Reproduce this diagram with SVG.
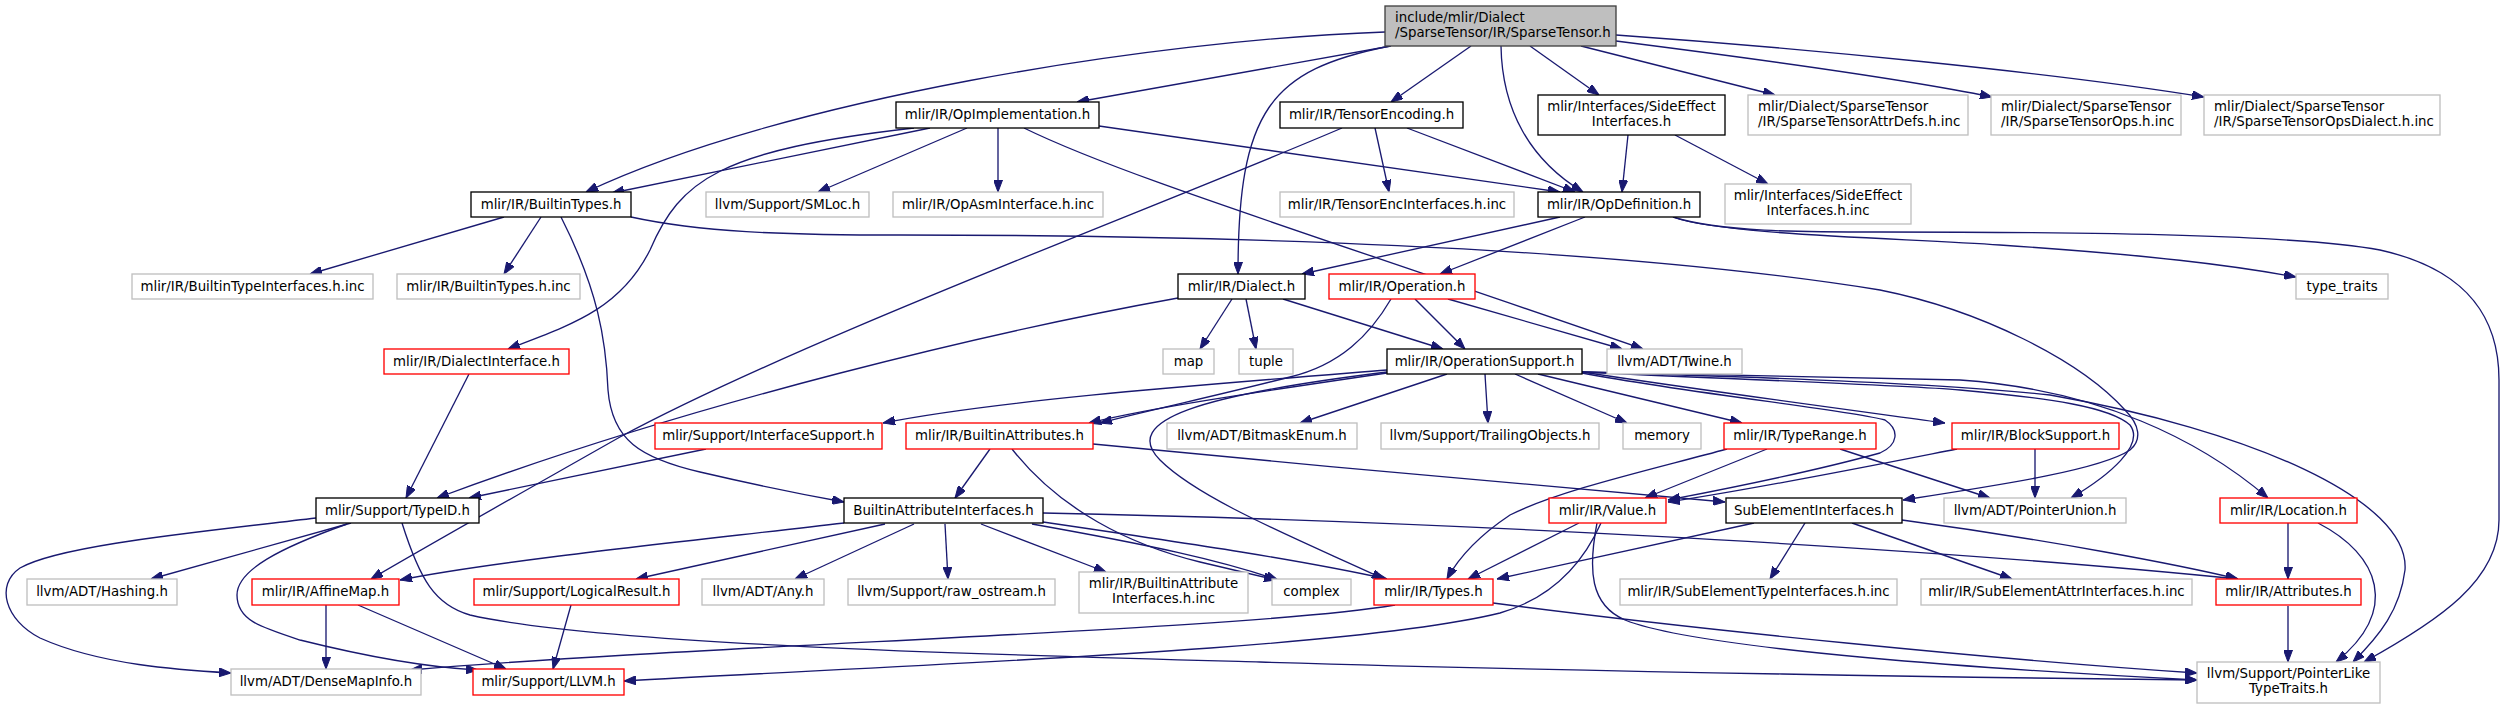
<svg xmlns="http://www.w3.org/2000/svg" width="2506" height="708" viewBox="0 0 2506 708">
<style>
.b{fill:#ffffff;stroke:#000000;stroke-width:1.33}
.g{fill:#ffffff;stroke:#bfbfbf;stroke-width:1.33}
.r{fill:#ffffff;stroke:#ff0000;stroke-width:1.33}
.root{fill:#bfbfbf;stroke:#404040;stroke-width:1.33}
text{font-family:"DejaVu Sans","Liberation Sans",sans-serif;font-size:13.33px;fill:#000000}
.c{text-anchor:middle}
.l{text-anchor:start}
.e{fill:none;stroke:#191970;stroke-width:1.33;marker-end:url(#a)}
</style>
<defs>
<marker id="a" markerWidth="12" markerHeight="9" refX="12" refY="4.5" orient="auto" markerUnits="userSpaceOnUse" viewBox="0 0 12 9">
<path d="M0,0 L12,4.5 L0,9 z" fill="#191970" stroke="#191970" stroke-width="1"/>
</marker>
</defs>
<rect width="2506" height="708" fill="#ffffff"/>
<g id="edges">
<path class="e" d="M1385,32 C1150,40 780,100 586,192"/>
<path class="e" d="M1391,46 L1077,102"/>
<path class="e" d="M1390,46 C1270,70 1238,110 1238,274"/>
<path class="e" d="M1471,46 L1391,102"/>
<path class="e" d="M1501,46 C1502,110 1530,160 1583,192"/>
<path class="e" d="M1530,46 L1599,95"/>
<path class="e" d="M1581,46 L1775,95"/>
<path class="e" d="M1616,41 C1750,58 1900,78 1992,97"/>
<path class="e" d="M1616,35 C1800,48 2050,72 2204,97"/>
<path class="e" d="M930,128 L612,193"/>
<path class="e" d="M914,128 C720,150 680,180 650,250 C620,310 570,325 508,349"/>
<path class="e" d="M967,128 L818,192"/>
<path class="e" d="M998,128 L998,192"/>
<path class="e" d="M1099,126 L1560,192"/>
<path class="e" d="M1024,128 C1120,175 1300,230 1643,349"/>
<path class="e" d="M504,217 L310,274"/>
<path class="e" d="M541,217 L504,274"/>
<path class="e" d="M561,217 C598,290 606,340 608,390 C612,440 640,458 700,472 C760,486 800,494 844,502"/>
<path class="e" d="M631,217 C700,232 780,235 900,235 C1200,235 1600,245 1880,290 C1980,310 2080,360 2125,410 C2140,425 2142,440 2130,450 C2100,470 2000,485 1903,500"/>
<path class="e" d="M1375,128 L1389,192"/>
<path class="e" d="M1407,128 L1575,192"/>
<path class="e" d="M1342,128 C1150,210 800,340 620,437 C500,505 420,550 371,579"/>
<path class="e" d="M1628,135 L1622,192"/>
<path class="e" d="M1675,135 L1768,184"/>
<path class="e" d="M1560,217 L1302,274"/>
<path class="e" d="M1585,217 L1440,274"/>
<path class="e" d="M1673,217 C1720,235 1900,238 2000,245 C2150,255 2230,265 2296,277"/>
<path class="e" d="M1673,217 C1720,232 1800,232 1880,232 C2100,232 2300,235 2380,250 C2470,270 2499,320 2499,380 L2499,520 C2499,580 2440,620 2364,662"/>
<path class="e" d="M1232,299 L1200,349"/>
<path class="e" d="M1246,299 L1256,349"/>
<path class="e" d="M1283,299 L1443,349"/>
<path class="e" d="M1178,298 C1000,330 700,400 437,498"/>
<path class="e" d="M1415,299 L1465,349"/>
<path class="e" d="M1448,299 L1622,349"/>
<path class="e" d="M1391,299 C1370,335 1340,365 1290,377 C1220,395 1150,410 1100,423"/>
<path class="e" d="M1387,370 C1200,385 1000,400 883,423"/>
<path class="e" d="M1387,373 C1250,393 1150,408 1089,423"/>
<path class="e" d="M1387,372 C1200,395 1120,420 1160,460 C1200,500 1300,540 1384,579"/>
<path class="e" d="M1447,374 L1300,423"/>
<path class="e" d="M1485,374 L1488,423"/>
<path class="e" d="M1515,374 L1627,423"/>
<path class="e" d="M1538,374 L1742,423"/>
<path class="e" d="M1582,372 C1700,390 1850,410 1945,423"/>
<path class="e" d="M1582,373 C1700,395 1850,410 1885,420 C1900,430 1898,445 1880,453 C1800,475 1720,490 1668,500"/>
<path class="e" d="M1582,372 C1750,380 1900,385 1960,390 C2050,398 2110,407 2130,425 C2145,445 2110,475 2071,498"/>
<path class="e" d="M1582,372 C1750,375 1900,378 1960,380 C2100,390 2200,440 2268,498"/>
<path class="e" d="M1582,372 C1800,378 1960,385 2050,395 C2250,430 2410,500 2405,570 C2400,610 2380,635 2353,662"/>
<path class="e" d="M706,449 L469,498"/>
<path class="e" d="M469,374 L406,498"/>
<path class="e" d="M990,449 L955,498"/>
<path class="e" d="M1012,449 C1060,510 1130,545 1200,562 L1276,580"/>
<path class="e" d="M1093,444 C1300,465 1600,490 1725,502"/>
<path class="e" d="M844,523 C700,540 500,560 400,580"/>
<path class="e" d="M885,524 L636,579"/>
<path class="e" d="M914,524 L795,579"/>
<path class="e" d="M945,524 L948,579"/>
<path class="e" d="M981,524 L1106,572"/>
<path class="e" d="M1043,522 C1200,545 1300,560 1387,579"/>
<path class="e" d="M1032,524 C1150,545 1220,560 1278,580"/>
<path class="e" d="M1043,513 C1400,520 1900,545 2238,579"/>
<path class="e" d="M1727,449 C1650,470 1560,490 1510,515 C1480,535 1460,555 1447,579"/>
<path class="e" d="M1767,449 L1645,498"/>
<path class="e" d="M1840,449 L1990,498"/>
<path class="e" d="M1957,449 C1850,470 1750,490 1668,502"/>
<path class="e" d="M2035,449 L2035,498"/>
<path class="e" d="M1579,523 L1468,579"/>
<path class="e" d="M1601,523 C1580,570 1545,600 1500,613 C1350,650 900,665 624,681"/>
<path class="e" d="M1597,523 C1588,570 1590,605 1625,620 C1700,650 2000,670 2197,680"/>
<path class="e" d="M1754,523 C1650,545 1560,565 1497,579"/>
<path class="e" d="M1805,523 L1770,579"/>
<path class="e" d="M1852,523 L2012,579"/>
<path class="e" d="M1902,520 C2050,540 2180,565 2238,579"/>
<path class="e" d="M2288,523 L2288,579"/>
<path class="e" d="M2318,523 C2380,555 2400,610 2336,662"/>
<path class="e" d="M2288,606 L2288,662"/>
<path class="e" d="M1395,605 C1250,630 700,645 410,670"/>
<path class="e" d="M1493,603 C1700,630 2000,660 2197,673"/>
<path class="e" d="M316,518 C200,532 60,545 20,568 C-5,585 5,620 40,638 C100,665 180,670 231,673"/>
<path class="e" d="M351,523 L151,579"/>
<path class="e" d="M347,524 C280,548 237,570 237,595 C237,620 260,627 300,640 C380,660 440,668 478,670"/>
<path class="e" d="M402,523 C420,580 435,605 470,615 C600,645 1000,655 1260,662 C1600,672 2000,678 2197,680"/>
<path class="e" d="M326,605 L326,669"/>
<path class="e" d="M358,605 L506,669"/>
<path class="e" d="M571,605 L553,669"/>
</g>
<g id="n-root"><rect class="root" x="1385" y="6" width="231" height="40"/><text class="l" x="1395" y="22">include/mlir/Dialect</text><text class="l" x="1395" y="37">/SparseTensor/IR/SparseTensor.h</text></g>
<g id="n-builtintypes"><rect class="b" x="471" y="192" width="160" height="25"/><text class="c" x="551" y="209">mlir/IR/BuiltinTypes.h</text></g>
<g id="n-opimpl"><rect class="b" x="896" y="102" width="203" height="26"/><text class="c" x="997.5" y="119">mlir/IR/OpImplementation.h</text></g>
<g id="n-tensorenc"><rect class="b" x="1280" y="102" width="183" height="26"/><text class="c" x="1371.5" y="119">mlir/IR/TensorEncoding.h</text></g>
<g id="n-sideeffect"><rect class="b" x="1538" y="95" width="187" height="40"/><text class="c" x="1631.5" y="111">mlir/Interfaces/SideEffect</text><text class="c" x="1631.5" y="126">Interfaces.h</text></g>
<g id="n-attrdefs"><rect class="g" x="1748" y="95" width="220" height="40"/><text class="l" x="1758" y="111">mlir/Dialect/SparseTensor</text><text class="l" x="1758" y="126">/IR/SparseTensorAttrDefs.h.inc</text></g>
<g id="n-ops"><rect class="g" x="1991" y="95" width="190" height="40"/><text class="l" x="2001" y="111">mlir/Dialect/SparseTensor</text><text class="l" x="2001" y="126">/IR/SparseTensorOps.h.inc</text></g>
<g id="n-opsdialect"><rect class="g" x="2204" y="95" width="236" height="40"/><text class="l" x="2214" y="111">mlir/Dialect/SparseTensor</text><text class="l" x="2214" y="126">/IR/SparseTensorOpsDialect.h.inc</text></g>
<g id="n-bti-inc"><rect class="g" x="132" y="274" width="241" height="25"/><text class="c" x="252.5" y="291">mlir/IR/BuiltinTypeInterfaces.h.inc</text></g>
<g id="n-bt-inc"><rect class="g" x="397" y="274" width="183" height="25"/><text class="c" x="488.5" y="291">mlir/IR/BuiltinTypes.h.inc</text></g>
<g id="n-smloc"><rect class="g" x="706" y="192" width="163" height="25"/><text class="c" x="787.5" y="209">llvm/Support/SMLoc.h</text></g>
<g id="n-opasm"><rect class="g" x="893" y="192" width="210" height="25"/><text class="c" x="998" y="209">mlir/IR/OpAsmInterface.h.inc</text></g>
<g id="n-tei-inc"><rect class="g" x="1280" y="192" width="234" height="25"/><text class="c" x="1397" y="209">mlir/IR/TensorEncInterfaces.h.inc</text></g>
<g id="n-opdef"><rect class="b" x="1538" y="192" width="162" height="25"/><text class="c" x="1619" y="209">mlir/IR/OpDefinition.h</text></g>
<g id="n-sei-inc"><rect class="g" x="1725" y="184" width="186" height="40"/><text class="c" x="1818" y="200">mlir/Interfaces/SideEffect</text><text class="c" x="1818" y="215">Interfaces.h.inc</text></g>
<g id="n-dialectif"><rect class="r" x="384" y="349" width="185" height="25"/><text class="c" x="476.5" y="366">mlir/IR/DialectInterface.h</text></g>
<g id="n-dialect"><rect class="b" x="1178" y="274" width="127" height="25"/><text class="c" x="1241.5" y="291">mlir/IR/Dialect.h</text></g>
<g id="n-operation"><rect class="r" x="1329" y="274" width="146" height="25"/><text class="c" x="1402" y="291">mlir/IR/Operation.h</text></g>
<g id="n-typetraits"><rect class="g" x="2296" y="274" width="92" height="25"/><text class="c" x="2342" y="291">type_traits</text></g>
<g id="n-map"><rect class="g" x="1163" y="349" width="51" height="25"/><text class="c" x="1188.5" y="366">map</text></g>
<g id="n-tuple"><rect class="g" x="1239" y="349" width="54" height="25"/><text class="c" x="1266" y="366">tuple</text></g>
<g id="n-opsupport"><rect class="b" x="1387" y="349" width="195" height="25"/><text class="c" x="1484.5" y="366">mlir/IR/OperationSupport.h</text></g>
<g id="n-twine"><rect class="g" x="1607" y="349" width="135" height="25"/><text class="c" x="1674.5" y="366">llvm/ADT/Twine.h</text></g>
<g id="n-ifsupport"><rect class="r" x="655" y="423" width="227" height="26"/><text class="c" x="768.5" y="440">mlir/Support/InterfaceSupport.h</text></g>
<g id="n-battrs"><rect class="r" x="906" y="423" width="187" height="26"/><text class="c" x="999.5" y="440">mlir/IR/BuiltinAttributes.h</text></g>
<g id="n-bitmask"><rect class="g" x="1167" y="423" width="190" height="26"/><text class="c" x="1262" y="440">llvm/ADT/BitmaskEnum.h</text></g>
<g id="n-trailing"><rect class="g" x="1381" y="423" width="218" height="26"/><text class="c" x="1490" y="440">llvm/Support/TrailingObjects.h</text></g>
<g id="n-memory"><rect class="g" x="1623" y="423" width="78" height="26"/><text class="c" x="1662" y="440">memory</text></g>
<g id="n-typerange"><rect class="r" x="1724" y="423" width="152" height="26"/><text class="c" x="1800" y="440">mlir/IR/TypeRange.h</text></g>
<g id="n-blocksupport"><rect class="r" x="1952" y="423" width="167" height="26"/><text class="c" x="2035.5" y="440">mlir/IR/BlockSupport.h</text></g>
<g id="n-location"><rect class="r" x="2220" y="498" width="137" height="25"/><text class="c" x="2288.5" y="515">mlir/IR/Location.h</text></g>
<g id="n-typeid"><rect class="b" x="316" y="498" width="163" height="25"/><text class="c" x="397.5" y="515">mlir/Support/TypeID.h</text></g>
<g id="n-bai"><rect class="b" x="844" y="498" width="199" height="25"/><text class="c" x="943.5" y="515">BuiltinAttributeInterfaces.h</text></g>
<g id="n-value"><rect class="r" x="1549" y="498" width="117" height="25"/><text class="c" x="1607.5" y="515">mlir/IR/Value.h</text></g>
<g id="n-subelem"><rect class="b" x="1726" y="498" width="176" height="25"/><text class="c" x="1814" y="515">SubElementInterfaces.h</text></g>
<g id="n-pointerunion"><rect class="g" x="1944" y="498" width="182" height="25"/><text class="c" x="2035" y="515">llvm/ADT/PointerUnion.h</text></g>
<g id="n-hashing"><rect class="g" x="27" y="579" width="150" height="26"/><text class="c" x="102" y="596">llvm/ADT/Hashing.h</text></g>
<g id="n-affinemap"><rect class="r" x="252" y="579" width="147" height="26"/><text class="c" x="325.5" y="596">mlir/IR/AffineMap.h</text></g>
<g id="n-logicalresult"><rect class="r" x="474" y="579" width="205" height="26"/><text class="c" x="576.5" y="596">mlir/Support/LogicalResult.h</text></g>
<g id="n-any"><rect class="g" x="702" y="579" width="122" height="26"/><text class="c" x="763" y="596">llvm/ADT/Any.h</text></g>
<g id="n-rawostream"><rect class="g" x="848" y="579" width="207" height="26"/><text class="c" x="951.5" y="596">llvm/Support/raw_ostream.h</text></g>
<g id="n-bai-inc"><rect class="g" x="1079" y="572" width="169" height="41"/><text class="c" x="1163.5" y="588">mlir/IR/BuiltinAttribute</text><text class="c" x="1163.5" y="603">Interfaces.h.inc</text></g>
<g id="n-complex"><rect class="g" x="1272" y="579" width="79" height="26"/><text class="c" x="1311.5" y="596">complex</text></g>
<g id="n-types"><rect class="r" x="1374" y="579" width="119" height="26"/><text class="c" x="1433.5" y="596">mlir/IR/Types.h</text></g>
<g id="n-seti-inc"><rect class="g" x="1620" y="579" width="277" height="26"/><text class="c" x="1758.5" y="596">mlir/IR/SubElementTypeInterfaces.h.inc</text></g>
<g id="n-seai-inc"><rect class="g" x="1921" y="579" width="271" height="26"/><text class="c" x="2056.5" y="596">mlir/IR/SubElementAttrInterfaces.h.inc</text></g>
<g id="n-attributes"><rect class="r" x="2216" y="579" width="145" height="26"/><text class="c" x="2288.5" y="596">mlir/IR/Attributes.h</text></g>
<g id="n-densemapinfo"><rect class="g" x="231" y="669" width="190" height="26"/><text class="c" x="326" y="686">llvm/ADT/DenseMapInfo.h</text></g>
<g id="n-llvm"><rect class="r" x="473" y="669" width="151" height="26"/><text class="c" x="548.5" y="686">mlir/Support/LLVM.h</text></g>
<g id="n-pointerlike"><rect class="g" x="2197" y="662" width="183" height="41"/><text class="c" x="2288.5" y="678">llvm/Support/PointerLike</text><text class="c" x="2288.5" y="693">TypeTraits.h</text></g>
</svg>
